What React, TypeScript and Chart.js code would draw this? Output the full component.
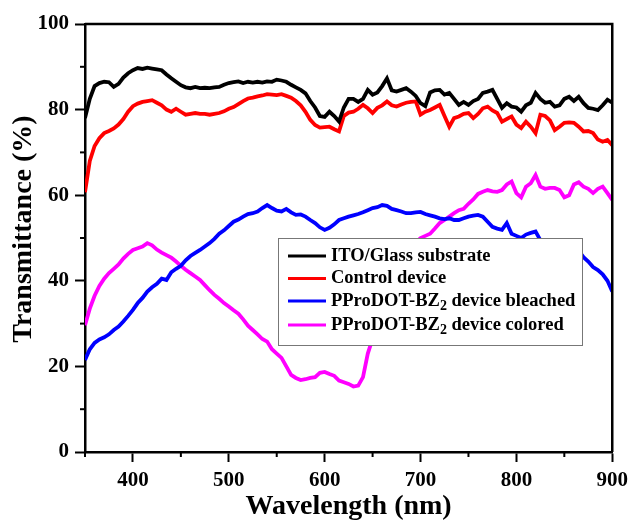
import React, { useEffect, useRef } from "react";
import { Chart, registerables } from "chart.js";

Chart.register(...registerables);

const WAVELENGTHS: number[] = Array.from({ length: 111 }, (_, i) => 350 + 5 * i);

const ITO_GLASS = [
  78, 82.5, 85.5, 86.2, 86.5, 86.4, 85.3, 86, 87.5, 88.5, 89.2, 89.7, 89.5, 89.8, 89.6, 89.4, 89.2, 88.2, 87.3, 86.5,
  85.7, 85.2, 85, 85.3, 85, 85.1, 85, 85.2, 85.3, 85.8, 86.2, 86.4, 86.6, 86.2, 86.5, 86.3, 86.5, 86.3, 86.6, 86.5,
  87, 86.8, 86.5, 85.8, 85.2, 84.6, 83.8, 82, 80.5, 78.5, 78.3, 79.5, 78.5, 77.2, 80.5, 82.5, 82.5, 81.8, 82.5, 84.6,
  83.5, 84, 85.5, 87.3, 84.5, 84.2, 84.6, 85, 84.2, 83.2, 81.5, 80.8, 84, 84.5, 84.6, 83.5, 83.9, 82.5, 81.1, 81.8,
  81.1, 82, 82.5, 83.9, 84.2, 84.6, 82.5, 80.4, 81.5, 80.7, 80.5, 79.5, 81, 81.6, 83.9, 82.5, 81.6, 81.8, 80.7, 81,
  82.5, 83, 82, 83, 81.5, 80.4, 80.2, 79.9, 81, 82.3, 81.6,
];

const CONTROL = [
  60.7, 68, 71.5, 73.3, 74.5, 75, 75.6, 76.5, 77.8, 79.5, 80.8, 81.4, 81.8, 82, 82.2, 81.6, 81, 80, 79.5, 80.2,
  79.5, 78.8, 79, 79.2, 79, 79, 78.8, 79, 79.2, 79.6, 80.2, 80.6, 81.3, 82, 82.6, 82.8, 83.1, 83.3, 83.6, 83.5,
  83.4, 83.6, 83.2, 82.8, 82, 81, 79.5, 77.6, 76.4, 75.8, 75.9, 76, 75.4, 74.9, 78.5, 79.3, 79.5, 80.2, 81.1, 80.3,
  79.2, 80.4, 81, 81.9, 81, 80.7, 81.2, 81.6, 81.8, 81.9, 78.8, 79.5, 79.9, 80.5, 81.1, 78.5, 76, 78, 78.4, 79,
  79.2, 78, 79, 80.3, 80.7, 79.8, 79.2, 77.2, 77.8, 78.4, 76.5, 75.7, 77.2, 76, 74.5, 78.8, 78.5, 77.5, 75.2, 76,
  76.9, 77, 76.9, 76, 74.9, 75, 74.5, 73, 72.5, 72.9, 71.7,
];

const BLEACHED = [
  21.5, 24, 25.5, 26.3, 26.8, 27.5, 28.5, 29.3, 30.5, 31.8, 33.2, 34.8, 36, 37.5, 38.5, 39.3, 40.5, 40.2, 42, 42.8,
  43.5, 44.8, 45.8, 46.5, 47.2, 48, 48.8, 49.8, 51, 51.8, 52.8, 53.8, 54.3, 55, 55.6, 55.8, 56.2, 57, 57.7, 57,
  56.4, 56.2, 56.8, 56, 55.4, 55.5, 55, 54.2, 53.5, 52.5, 51.9, 52.4, 53.2, 54.2, 54.6, 55, 55.3, 55.6, 56, 56.5,
  57, 57.2, 57.7, 57.5, 56.8, 56.5, 56.2, 55.8, 55.8, 56, 56.1, 55.6, 55.3, 55, 54.6, 54.4, 54.6, 54.2, 54.2, 54.6,
  55, 55.2, 55.4, 55, 53.8, 52.6, 52.2, 51.9, 53.5, 51, 50.5, 50, 50.8, 51.2, 51.5, 49.5, 49, 48.5, 48.5, 48,
  47.8, 47.5, 47.2, 47, 45.5, 44.5, 43.2, 42.5, 41.5, 40, 37.5,
];

const COLORED = [
  29.6, 33.5, 36.5, 38.8, 40.5, 41.8, 42.8, 43.8, 45.2, 46.3, 47.2, 47.6, 48, 48.8, 48.3, 47.3, 46.6, 46, 45.4, 44.5,
  43.5, 42.6, 41.8, 41, 40.2, 39, 37.8, 36.7, 35.8, 34.8, 34, 33.1, 32.3, 31, 29.5, 28.5, 27.5, 26.4, 25.8, 24,
  23, 22, 20, 18, 17.3, 16.8, 17, 17.3, 17.5, 18.5, 18.7, 18.2, 17.8, 16.7, 16.3, 15.9, 15.3, 15.5, 17.5, 23,
  26.5, 30, 34, 37, 40, 42, 44, 46, 47.5, 49, 50, 50.5, 51, 52.2, 53.5, 54.2, 55, 55.8, 56.5, 56.8,
  58, 59, 60.3, 60.8, 61.2, 60.9, 60.8, 61.2, 62.5, 63.2, 60.5, 59.5, 62, 62.8, 64.7, 62, 61.5, 61.7, 61.7, 61.2,
  59.5, 60, 62.5, 63, 62, 61.5, 60.5, 61.5, 62, 60.5, 58.9,
];

const X_MAJOR = [400, 500, 600, 700, 800, 900];
const X_MINOR = [350, 450, 550, 650, 750, 850];
const Y_MAJOR = [0, 20, 40, 60, 80, 100];
const Y_MINOR = [10, 30, 50, 70, 90];

const X_TITLE = "Wavelength (nm)";
const Y_TITLE = "Transmittance (%)";
const SERIES_NAMES = ["ITO/Glass substrate", "Control device", "PProDOT-BZ2 device bleached", "PProDOT-BZ2 device colored"];
const SERIES_COLORS = ["#000000", "#ff0000", "#0000ff", "#ff00ff"];
const SERIES_VALUES = [ITO_GLASS, CONTROL, BLEACHED, COLORED];

const FONT = "'Liberation Serif', 'Times New Roman', serif";

const framePlugin = {
  id: "frameAndLegend",
  afterDraw(chart: any) {
    const { ctx, chartArea, scales } = chart;
    const { left, right, top, bottom } = chartArea;
    ctx.save();
    ctx.strokeStyle = "#000";
    ctx.lineWidth = 2.5;
    ctx.beginPath();
    ctx.moveTo(left, top);
    ctx.lineTo(right, top);
    ctx.lineTo(right, bottom);
    ctx.stroke();
    ctx.lineWidth = 2;
    for (const v of X_MINOR) {
      const px = scales.x.getPixelForValue(v);
      ctx.beginPath();
      ctx.moveTo(px, bottom);
      ctx.lineTo(px, bottom + 5);
      ctx.stroke();
    }
    for (const v of Y_MINOR) {
      const py = scales.y.getPixelForValue(v);
      ctx.beginPath();
      ctx.moveTo(left - 5, py);
      ctx.lineTo(left, py);
      ctx.stroke();
    }

    // y-axis title
    ctx.save();
    ctx.translate(24, (top + bottom) / 2 - 9);
    ctx.rotate(-Math.PI / 2);
    ctx.fillStyle = "#000";
    ctx.textAlign = "center";
    ctx.textBaseline = "middle";
    ctx.font = `bold 28px ${FONT}`;
    ctx.fillText(Y_TITLE, 0, 0);
    ctx.restore();

    // legend box
    const bx = 278, by = 238, bw = 304, bh = 107;
    ctx.fillStyle = "#fff";
    ctx.fillRect(bx, by, bw, bh);
    ctx.strokeStyle = "#777";
    ctx.lineWidth = 1;
    ctx.strokeRect(bx + 0.5, by + 0.5, bw, bh);
    const rows = [256, 278.5, 301, 325];
    SERIES_NAMES.forEach((name, i) => {
      const yy = rows[i];
      ctx.strokeStyle = SERIES_COLORS[i];
      ctx.lineWidth = 3;
      ctx.beginPath();
      ctx.moveTo(288, yy);
      ctx.lineTo(326, yy);
      ctx.stroke();
      ctx.fillStyle = "#000";
      ctx.textBaseline = "middle";
      ctx.textAlign = "left";
      ctx.font = `bold 18.5px ${FONT}`;
      const idx = name.indexOf("BZ2");
      if (idx >= 0) {
        const pre = name.slice(0, idx + 2);
        const post = name.slice(idx + 3);
        ctx.fillText(pre, 331, yy);
        let xx = 331 + ctx.measureText(pre).width;
        ctx.font = `bold 14px ${FONT}`;
        ctx.fillText("2", xx, yy + 5);
        xx += ctx.measureText("2").width;
        ctx.font = `bold 18.5px ${FONT}`;
        ctx.fillText(post, xx, yy);
      } else {
        ctx.fillText(name, 331, yy);
      }
    });
    ctx.restore();
  },
};

export default function App() {
  const ref = useRef<HTMLCanvasElement | null>(null);
  useEffect(() => {
    document.body.style.margin = "0";
    const canvas = ref.current;
    if (!canvas) return;
    const datasets = SERIES_VALUES.map((vals, i) => ({
      label: SERIES_NAMES[i],
      data: vals.map((v, j) => ({ x: WAVELENGTHS[j], y: v })),
      borderColor: SERIES_COLORS[i],
      backgroundColor: SERIES_COLORS[i],
      borderWidth: 3.8,
      pointRadius: 0,
      tension: 0,
      fill: false,
    }));
    const chart = new Chart(canvas, {
      type: "line",
      data: { datasets },
      plugins: [framePlugin],
      options: {
        responsive: false,
        animation: false,
        layout: { padding: { left: 0, top: 24, right: 21, bottom: 0 } },
        plugins: { legend: { display: false }, tooltip: { enabled: false } },
        scales: {
          x: {
            type: "linear",
            min: 350,
            max: 900,
            afterBuildTicks: (s: any) => {
              s.ticks = X_MAJOR.map((v) => ({ value: v }));
            },
            afterFit: (s: any) => {
              s.height = 70;
            },
            grid: { drawOnChartArea: false, tickLength: 10, tickColor: "#000", tickWidth: 2 },
            border: { color: "#000", width: 2.5 },
            ticks: {
              color: "#000",
              padding: 6,
              maxRotation: 0,
              font: { family: FONT, size: 21, weight: "bold" },
            },
            title: {
              display: true,
              text: X_TITLE,
              color: "#000",
              font: { family: FONT, size: 28, weight: "bold", lineHeight: 1 },
              padding: { top: 0, bottom: 1 },
            },
          },
          y: {
            type: "linear",
            min: 0,
            max: 100,
            afterBuildTicks: (s: any) => {
              s.ticks = Y_MAJOR.map((v) => ({ value: v }));
            },
            afterFit: (s: any) => {
              s.width = 85;
            },
            grid: { drawOnChartArea: false, tickLength: 10, tickColor: "#000", tickWidth: 2 },
            border: { color: "#000", width: 2.5 },
            ticks: {
              color: "#000",
              padding: 6,
              font: { family: FONT, size: 21, weight: "bold" },
            },
            title: { display: false },
          },
        },
      },
    } as any);
    return () => chart.destroy();
  }, []);
  return (
    <div style={{ position: "absolute", left: 0, top: 0, width: 634, height: 522, background: "#fff" }}>
      <canvas ref={ref} width={634} height={522} style={{ display: "block" }} />
    </div>
  );
}
